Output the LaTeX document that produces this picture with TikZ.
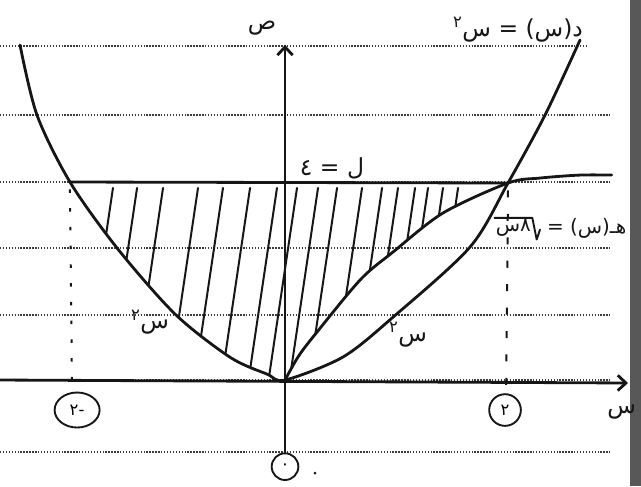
\documentclass[tikz,border=0pt]{standalone}
\usepackage{fontspec}
\usetikzlibrary{arrows.meta,calc,positioning,shapes.geometric}
\newfontfamily\arabicfont[Script=Arabic]{DejaVu Sans}
\TeXXeTstate=1
\definecolor{penblack}{RGB}{22,22,22}
\definecolor{ruledot}{RGB}{60,60,60}
\definecolor{pageedge}{RGB}{88,88,88}

\begin{document}
\begin{tikzpicture}[x=3.3cm, y=1.485cm,
    pen/.style={draw=penblack, line width=2.4pt, line cap=round, line join=round},
    ruled/.style={draw=ruledot, line width=1.1pt, dash pattern=on 1.2pt off 1.3pt},
    hatch/.style={draw=penblack, line width=1.7pt, line cap=round},
    guide/.style={draw=penblack, line width=1.7pt, dash pattern=on 3pt off 13pt},
    lbl/.style={font=\arabicfont\fontsize{20}{24}\selectfont, text=penblack, inner sep=1pt},
    ring/.style={draw=penblack, line width=1.6pt, inner sep=2pt, font=\arabicfont\fontsize{14}{16}\selectfont}
  ]
  \useasboundingbox (-2.591,-2.141) rectangle (3.236,7.677);
  \fill[white] (-2.591,-2.141) rectangle (3.236,7.677);

  % ruled paper
  \foreach \ry in {5.354,4.0,2.667,1.313,0,-1.455}
    \draw[ruled] (-2.591,\ry) -- (2.95,\ry);
  \draw[ruled] (-2.591,6.747) -- (2.75,6.747);
  \fill[pageedge] (3.136,-2.141) rectangle (3.236,7.677);

  % shaded region
  \begin{scope}
    \clip plot[smooth] coordinates {(-1.955,4.0) (-1.527,2.667) (-1.0,1.333) (-0.5,0.46) (-0.164,0.12) (0,0)}
      -- plot[smooth] coordinates {(0,0) (0.118,0.465) (0.255,0.87) (0.682,2.02) (0.982,2.586) (1.436,3.374) (2.027,3.98)}
      -- cycle;
    \foreach \hx in {-1.564,-1.345,-1.109,-0.791,-0.564,-0.318,-0.073,0.109,0.3,0.473,0.7,0.882,1.027,1.182,1.3,1.436,1.573}
      \draw[hatch] (\hx,3.88) -- ++(-0.28,-4.2);
  \end{scope}

  \coordinate (pL) at (-1.955,4.0);
  \coordinate (pR) at (2.027,3.98);

  % curves
  \draw[pen] plot[smooth] coordinates {(-2.409,6.768) (-2.255,5.354) (-1.955,4.0) (-1.527,2.667) (-1.0,1.333) (-0.5,0.46) (-0.164,0.12) (0,0) (0.527,0.465) (0.982,1.27) (1.682,2.687) (2.027,3.98) (2.364,5.354) (2.682,6.869)};
  \draw[pen] plot[smooth] coordinates {(0,0) (0.118,0.465) (0.255,0.87) (0.682,2.02) (0.982,2.586) (1.436,3.374) (2.027,3.98) (2.318,4.08) (2.68,4.14) (2.97,4.14)};
  \draw[pen] (pL) -- (pR);

  % guides
  \draw[guide] (pL) ++(0,-0.15) -- (-1.936,-0.2);
  \draw[guide, dash pattern=on 6pt off 14pt] (pR) ++(0,-0.15) -- (2.01,-0.25);

  % axes
  \node[ring, circle, minimum size=0.8cm] (zero) at (0,-1.75) {٠};
  \node[ring, ellipse, minimum width=1.35cm, minimum height=1.05cm] (mtwo) at (-1.89,-0.606) {\beginR -٢\endR};
  \node[ring, circle, minimum size=0.95cm] (ptwo) at (2.0,-0.606) {٢};
  \coordinate (xstart) at (-2.591,0);
  \coordinate (xtip) at (3.118,-0.06);
  \coordinate (ytip) at (0,6.77);
  \draw[pen, -{Straight Barb[length=7pt,width=13pt]}] (xstart) -- (xtip);
  \draw[pen, -{Straight Barb[length=7pt,width=13pt]}] (zero) -- (ytip);
  \fill[penblack] (0.273,-1.88) circle (1.3pt);

  % labels
  \node[lbl] (ylab) at (-0.209,7.11) {ص};
  \node[lbl] (xlab) at (3.06,-0.65) {س};
  \node[lbl] (fd) at (2.118,7.07) {\beginR د(س) = س\textsuperscript{٢}\endR};
  \node[lbl, anchor=east, font=\arabicfont\fontsize{17}{20}\selectfont] (fh) at (3.115,3.07) {\beginR هـ(س) =\endR};
  \node[lbl, left=0.4cm of fh, font=\arabicfont\fontsize{17}{20}\selectfont] (fhr) {٨س};
  \draw[penblack, line width=1.6pt, line cap=round, line join=round]
    (fhr.north west) -- (fhr.north east) -- ++(0.13cm,-0.65cm) -- ++(0.1cm,0.3cm);
  \node[lbl] (fl) at (0.427,4.28) {\beginR ل = ٤\endR};
  \node[lbl] (sl) at (-1.227,1.17) {\beginR س\textsuperscript{٢}\endR};
  \node[lbl] (sr) at (1.118,0.91) {\beginR س\textsuperscript{٢}\endR};
\end{tikzpicture}
\end{document}
